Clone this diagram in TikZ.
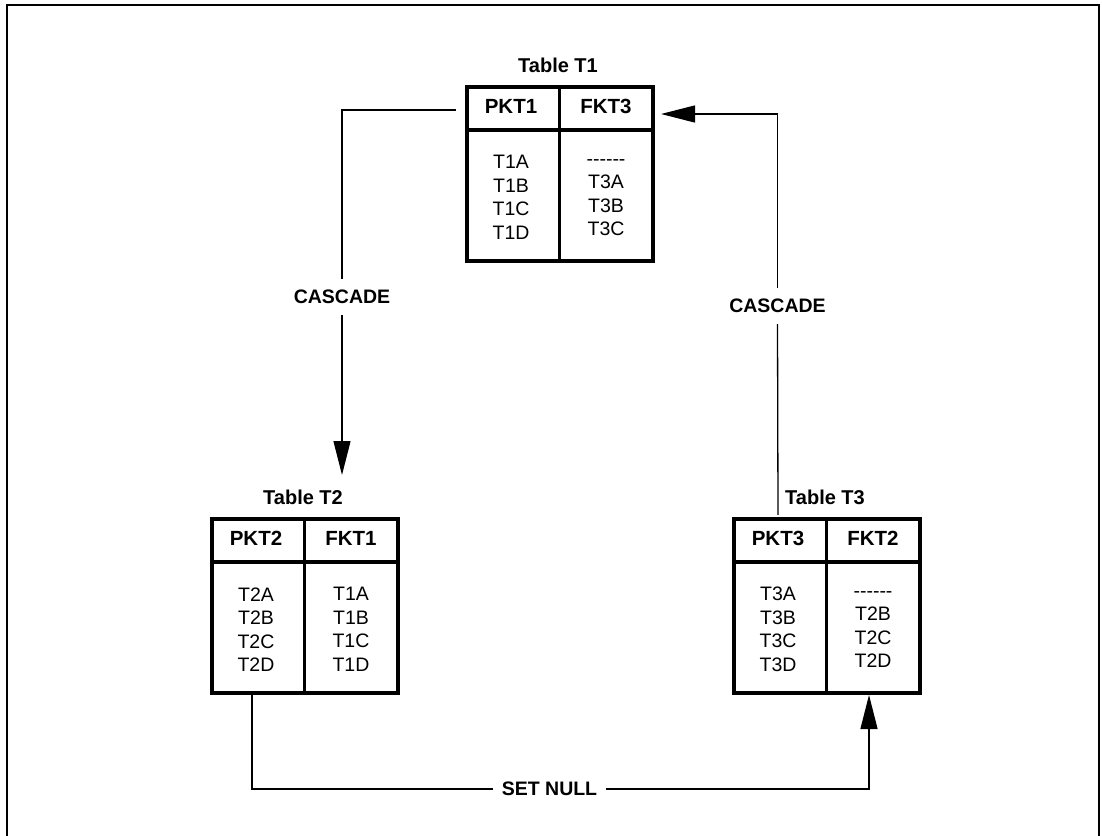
\documentclass[tikz,border=0pt]{standalone}
\usepackage{fontspec}
\setmainfont{Liberation Sans}
\usetikzlibrary{arrows.meta}
\tikzset{
  tblbox/.style={draw, line width=4pt, minimum width=186pt, minimum height=174pt, inner sep=0pt, anchor=north west},
  hdrcell/.style={minimum width=96pt, minimum height=47pt, inner sep=0pt, font=\fontsize{20.5}{24}\selectfont\bfseries},
  bodycell/.style={align=center, inner sep=0pt, font=\fontsize{19.5}{23.5}\selectfont},
  ttl/.style={inner sep=0pt, font=\fontsize{20}{24}\selectfont\bfseries},
  lbl/.style={inner xsep=9pt, inner ysep=11pt, font=\fontsize{19.5}{23}\selectfont\bfseries},
  conn/.style={line width=1.3pt},
  arr/.style={conn, -{Triangle[length=34pt,width=17pt]}},
  frame/.style={line width=1.3pt}
}
\newcommand\nulldash{-{}-{}-{}-{}-{}-}
\newcommand\dbtable[8]{%
  \node[tblbox] (#1) at (#2+2,#3+2) {};
  \node[ttl] (#1t) at (#2+95,#3-18) {#4};
  \node[hdrcell] (#1h1) at (#2+48,#3+23.5) {#5};
  \node[hdrcell] (#1h2) at (#2+143,#3+23.5) {#6};
  \draw[line width=4pt] (#2+2,#3+47) -- (#2+188,#3+47);
  \draw[line width=3pt] (#2+96,#3+2) -- (#2+96,#3+176);
  \node[bodycell] (#1b1) at (#2+48,#3+114.5) {#7};
  \node[bodycell] (#1b2) at (#2+143,#3+114.5) {#8};
}
\begin{document}
\begin{tikzpicture}[x=1pt,y=-1pt]
\useasboundingbox (0,0) rectangle (1102,835);
% outer frame
\draw[frame] (7,850) -- (7,5) -- (1099,5) -- (1099,850);

% tables
\dbtable{t1}{463}{83}{Table T1}{PKT1}{FKT3}{T1A\\T1B\\T1C\\T1D}{\nulldash\\T3A\\T3B\\T3C}
\dbtable{t2}{208}{515}{Table T2}{PKT2}{FKT1}{T2A\\T2B\\T2C\\T2D}{T1A\\T1B\\T1C\\T1D}
\dbtable{t3}{730}{515}{Table T3}{PKT3}{FKT2}{T3A\\T3B\\T3C\\T3D}{\nulldash\\T2B\\T2C\\T2D}

% labels
\node[lbl] (lab1) at (342,297) {CASCADE};
\node[lbl] (lab2) at (777.5,306) {CASCADE};
\node[lbl] (lab3) at (549.5,789) {SET NULL};

% connector coordinates
\coordinate (s1) at (456,110);
\coordinate (tip1) at (342,475);
\coordinate (tip2) at (661,114);
\coordinate (s3) at (252,691);
\coordinate (tip3) at (869,695);

% T1 -> T2 (CASCADE)
\draw[conn] (s1) -| (lab1.north);
\draw[arr] (lab1.south) -- (tip1);

% T3 -> T1 (CASCADE)
\draw[conn] (t3h1.north) -- (lab2.south);
\draw[arr] (lab2.north) |- (tip2);

% T2 -> T3 (SET NULL)
\draw[conn] (s3) |- (lab3.west);
\draw[arr] (lab3.east) -| (tip3);
\end{tikzpicture}
\end{document}
